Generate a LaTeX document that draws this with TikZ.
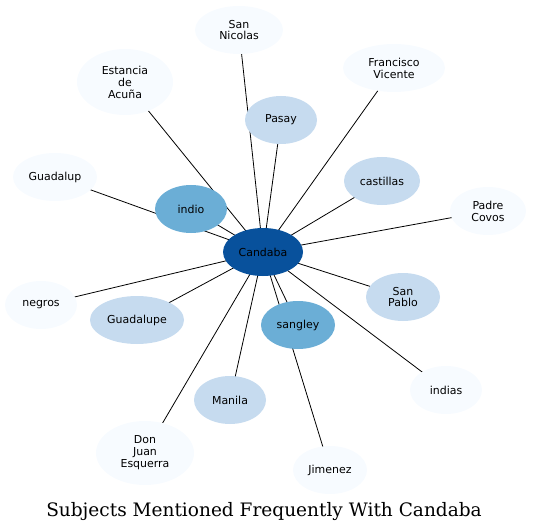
\documentclass[tikz,border=0pt]{standalone}
\usepackage{fontspec}
\setmainfont{DejaVu Sans}
\newfontfamily\titlefont{DejaVu Serif}
\usetikzlibrary{shapes.geometric}
\pgfdeclarelayer{bg}
\pgfsetlayers{bg,main}
\definecolor{cdark}{HTML}{08519C}
\definecolor{cmid}{HTML}{6BAED6}
\definecolor{clight}{HTML}{C6DBEF}
\definecolor{cpale}{HTML}{F7FBFF}
\tikzset{
  ent/.style={ellipse, inner sep=0pt, align=center, font=\fontsize{11}{12}\selectfont, text=black},
  dk/.style={ent, fill=cdark},
  md/.style={ent, fill=cmid},
  lt/.style={ent, fill=clight},
  pl/.style={ent, fill=cpale},
  sz/.style 2 args={minimum width=#1bp, minimum height=#2bp},
  link/.style={draw=black, line width=0.8bp}
}
\begin{document}
\begin{tikzpicture}[x=1bp,y=-1bp]
\useasboundingbox (0,0) rectangle (533,531);
\node[dk, sz={80}{48}] (c) at (263,252) {Candaba};
\node[pl, sz={88}{48}] (sn) at (239,30) {San\\Nicolas};
\node[pl, sz={96}{66}] (ea) at (125,82) {Estancia\\de\\Acuña};
\node[pl, sz={102}{48}] (fv) at (394,68) {Francisco\\Vicente};
\node[lt, sz={72}{48}] (pa) at (281,120) {Pasay};
\node[lt, sz={76}{48}] (ca) at (382,181) {castillas};
\node[pl, sz={84}{48}] (gp) at (55,177) {Guadalup};
\node[md, sz={72}{48}] (in) at (191,209) {indio};
\node[pl, sz={76}{48}] (pc) at (488,211) {Padre\\Covos};
\node[pl, sz={72}{48}] (ne) at (41,305) {negros};
\node[lt, sz={94}{48}] (ge) at (137,320) {Guadalupe};
\node[lt, sz={74}{48}] (sp) at (403,297) {San\\Pablo};
\node[md, sz={74}{48}] (sa) at (298,325) {sangley};
\node[pl, sz={72}{48}] (ia) at (446,390) {indias};
\node[lt, sz={72}{48}] (ma) at (230,400) {Manila};
\node[pl, sz={98}{64}] (dj) at (145,453) {Don\\Juan\\Esquerra};
\node[pl, sz={74}{48}] (ji) at (330,470) {Jimenez};
\begin{pgfonlayer}{bg}
\foreach \n in {sn,ea,fv,pa,ca,gp,in,pc,ne,ge,sp,sa,ia,ma,dj,ji}
  \draw[link] (c.center) -- (\n.center);
\end{pgfonlayer}
\node[font=\titlefont\fontsize{18.6}{20}\selectfont, anchor=base, inner sep=0pt] (title) at (264,516) {Subjects Mentioned Frequently With Candaba};
\end{tikzpicture}
\end{document}
